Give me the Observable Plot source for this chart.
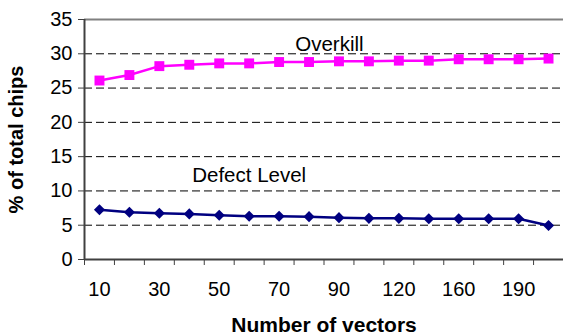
<!DOCTYPE html>
<html>
<head>
<meta charset="utf-8">
<script src="https://cdn.jsdelivr.net/npm/d3@7"></script>
<script src="https://cdn.jsdelivr.net/npm/@observablehq/plot@0.6"></script>
<style>
  html, body { margin: 0; padding: 0; background: #fff; }
  svg { display: block; }
</style>
</head>
<body>
<div id="chart"></div>
<script>
// Categories (number of vectors) — only every other label is shown on the axis
const vectors = [10, 20, 30, 40, 50, 60, 70, 80, 90, 100, 120, 140, 160, 180, 190, 200];
const overkill = [26.1, 26.9, 28.2, 28.4, 28.6, 28.6, 28.8, 28.8, 28.9, 28.9, 29.0, 29.0, 29.2, 29.2, 29.2, 29.3];
const defectLevel = [7.25, 6.9, 6.75, 6.65, 6.45, 6.3, 6.3, 6.25, 6.1, 6.0, 6.0, 5.95, 5.95, 5.95, 5.95, 4.95];
const yTicks = [0, 5, 10, 15, 20, 25, 30, 35];
const gridTicks = [5, 10, 15, 20, 25, 30];
// Series label anchors (category position, value)
const seriesLabels = [
  {name: "Overkill", pos: 7.68, value: 31.4},
  {name: "Defect Level", pos: 5.0, value: 12.25}
];

const n = vectors.length;
const idx = d3.range(n);
const ovData = idx.map(i => ({i, v: overkill[i]}));
const dlData = idx.map(i => ({i, v: defectLevel[i]}));
const boundaries = d3.range(n + 1).map(i => i - 0.5);
const labelTicks = idx.filter(i => i % 2 === 0);

const font = "'Liberation Sans', Arial, sans-serif";

const chart = Plot.plot({
  width: 563,
  height: 336,
  marginLeft: 84,
  marginRight: 0,
  marginTop: 19,
  marginBottom: 77,
  style: {fontFamily: font, fontSize: "20px", color: "#000", background: "#fff"},
  x: {type: "linear", domain: [-0.5, n - 0.5]},
  y: {domain: [0, 35]},
  marks: [
    Plot.gridY(gridTicks, {stroke: "#000", strokeOpacity: 1, strokeWidth: 1, strokeDasharray: "8,4"}),
    Plot.ruleY([35], {stroke: "#808080", strokeWidth: 2}),
    Plot.axisY(yTicks, {
      tickSize: 6, tickPadding: 6, stroke: "#404040", fontSize: 20,
      label: "% of total chips", labelAnchor: "center", labelOffset: 76, labelArrow: "none"
    }),
    Plot.axisX(boundaries, {tickSize: 6, tickFormat: () => "", stroke: "#404040", label: null}),
    Plot.axisX(labelTicks, {
      tickSize: 0, tickPadding: 22, fontSize: 20,
      tickFormat: i => String(vectors[i]),
      label: "Number of vectors", labelAnchor: "center", labelOffset: 72, labelArrow: "none"
    }),
    Plot.ruleX([-0.5], {stroke: "#404040", strokeWidth: 2}),
    Plot.ruleY([0], {stroke: "#404040", strokeWidth: 2}),
    Plot.line(ovData, {x: "i", y: "v", stroke: "#FF00FF", strokeWidth: 2.5}),
    Plot.dot(ovData, {x: "i", y: "v", symbol: "square", fill: "#FF00FF", r: 5.6}),
    Plot.line(dlData, {x: "i", y: "v", stroke: "#000080", strokeWidth: 2.5}),
    Plot.dot(dlData, {x: "i", y: "v", symbol: "diamond2", fill: "#000080", r: 5}),
    Plot.text(seriesLabels, {x: "pos", y: "value", text: "name", fontSize: 20.5, fill: "#000"})
  ]
});

// Make axis titles bold
chart.querySelectorAll("g[aria-label='y-axis label'] text").forEach(t => {
  t.setAttribute("font-weight", "bold");
  t.setAttribute("font-size", "20");
});
chart.querySelectorAll("g[aria-label='x-axis label'] text").forEach(t => {
  t.setAttribute("font-weight", "bold");
  t.setAttribute("font-size", "21");
});
document.getElementById("chart").appendChild(chart);
</script>
</body>
</html>
